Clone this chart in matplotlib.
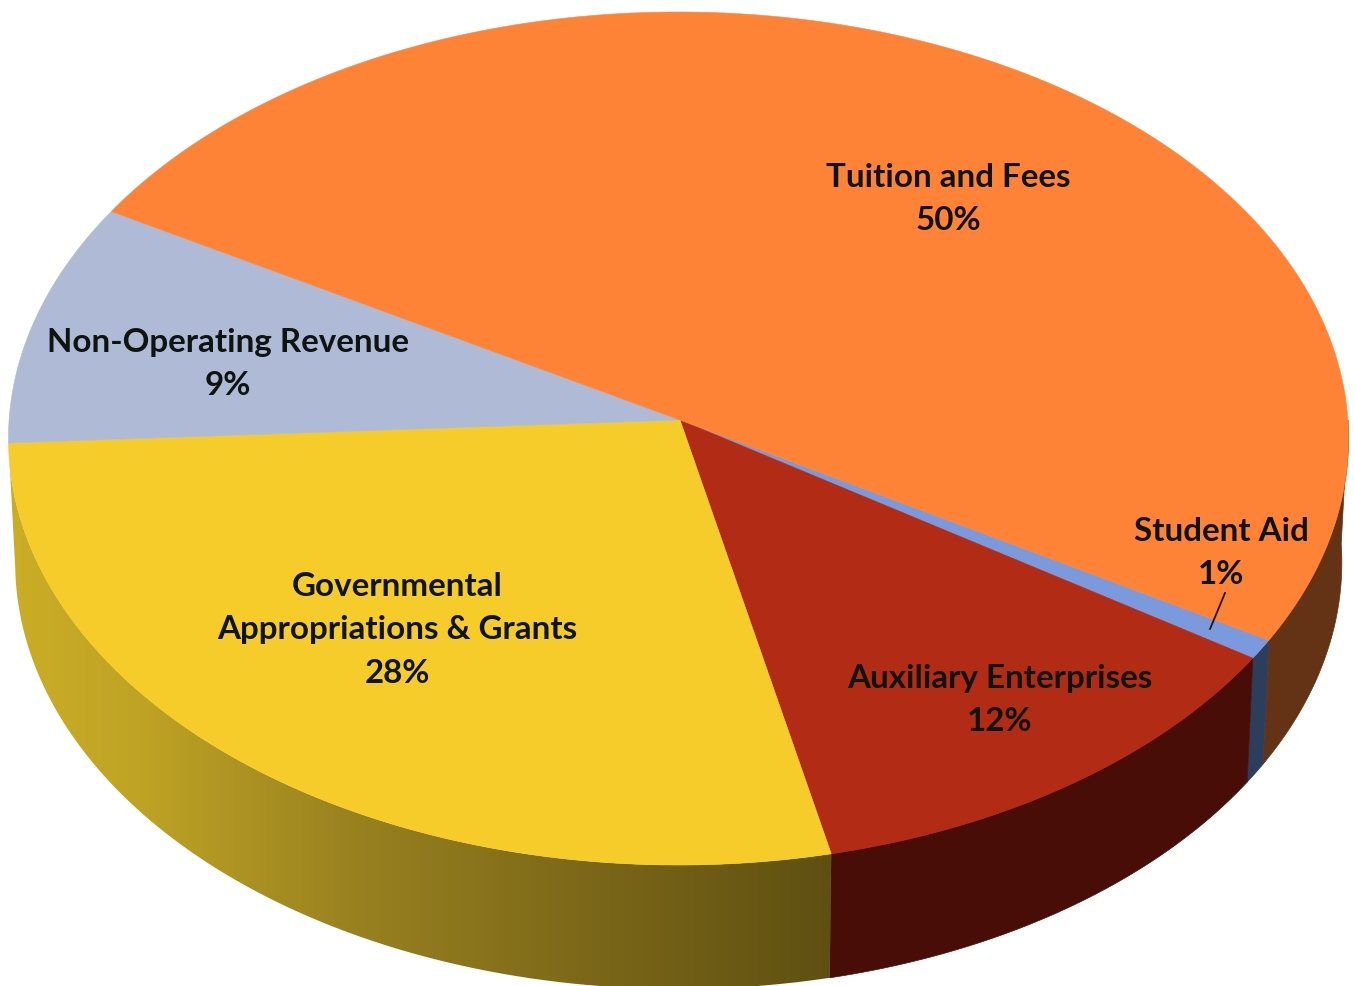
# 3D look pie chart of revenue sources
import numpy as np
import matplotlib.pyplot as plt
from matplotlib.colors import LinearSegmentedColormap
from matplotlib.patches import Polygon

# Slices clockwise, starting at the student aid edge on the right
categories = ["Student Aid", "Auxiliary Enterprises",
              "Governmental\nAppropriations & Grants",
              "Non-Operating Revenue", "Tuition and Fees"]
percent_labels = [1, 12, 28, 9, 50]
# shares (the printed labels are rounded)
slice_shares = [0.75, 12.3, 27.65, 9.2, 50.1]

top_colors = ["#7B9ADD", "#B22B14", "#F6CC2A", "#AEBAD6", "#FF8336"]
wall_colors = ["#2D3E5C", "#470D06", None, None, "#643315"]

# Geometry of the disc, in pixels. The far half is squashed a little,
# so the circle goes through a simple perspective map
CX, CY = 678.5, 420
Q, P, K = 669.4, 425.7, 0.0434
WALL_SHIFT = 124
WALL_SCALE = 0.99
START = -30.4


def rim(t):
    t = np.radians(t)
    u, v = np.cos(t), np.sin(t)
    w = 1 + K * v
    return CX + Q * u / w, CY - P * v / w


def wall_rim(t):
    x, y = rim(t)
    return CX + (x - CX) * WALL_SCALE, y + WALL_SHIFT


def wall_poly(t0, t1):
    # only the front half of the disc shows a wall
    t = np.linspace(max(t0, -180), min(t1, 0), 200)
    x0, y0 = rim(t)
    x1, y1 = wall_rim(t)
    return np.column_stack([np.r_[x0, x1[::-1]], np.r_[y0, y1[::-1]]])


fig = plt.figure(figsize=(13.54, 9.86), dpi=100, facecolor="white")
ax = fig.add_axes([0, 0, 1, 1])
ax.set_xlim(0, 1354)
ax.set_ylim(986, 0)
ax.axis("off")

spans = np.array(slice_shares) / np.sum(slice_shares) * 360
ends = START - np.cumsum(spans)
starts = ends + spans

# Outer walls
wall_cmap = LinearSegmentedColormap.from_list(
    "wall", [(0, "#CBAD26"), (0.16, "#BFA324"), (0.41, "#9A8220"),
             (0.72, "#7A6618"), (1, "#5F5012")])
# orange wall runs from the right edge down to the first slice
ax.add_patch(Polygon(wall_poly(START, 0), color=wall_colors[4], lw=0.5))
for i in [0, 1]:
    ax.add_patch(Polygon(wall_poly(ends[i], starts[i]), color=wall_colors[i], lw=0.5))

poly = wall_poly(ends[2], starts[2])
patch = Polygon(poly, fc="none", ec="none")
ax.add_patch(patch)
left, right = poly[:, 0].min(), poly[:, 0].max()
grad = np.linspace(0, 1, 256).reshape(1, -1)
im = ax.imshow(grad, cmap=wall_cmap, aspect="auto", zorder=1,
               extent=[left, right, poly[:, 1].max(), poly[:, 1].min()])
im.set_clip_path(patch)
ax.set_xlim(0, 1354)
ax.set_ylim(986, 0)

# Top of the disc
for i in range(len(slice_shares)):
    t = np.linspace(starts[i], ends[i], 300)
    x, y = rim(t)
    pts = np.column_stack([np.r_[CX + 1.5, x], np.r_[CY, y]])
    ax.add_patch(Polygon(pts, fc=top_colors[i], ec=top_colors[i], lw=0.4, zorder=2))

# Labels
label_pos = [(1221, 553), (1000, 700), (397, 630), (228, 364), (948, 199)]
for name, pct, (lx, ly) in zip(categories, percent_labels, label_pos):
    ax.text(lx, ly, "{}\n{}%".format(name, pct), ha="center", va="center",
            family="Lato", weight="bold", fontsize=23.9, color="#0E1510",
            linespacing=1.6, zorder=4)

# Leader for the thin slice
ax.plot([1225, 1210], [593, 629], color="#1A1A10", lw=1.3, zorder=3)

fig.savefig("out.png", dpi=100, facecolor="white")
